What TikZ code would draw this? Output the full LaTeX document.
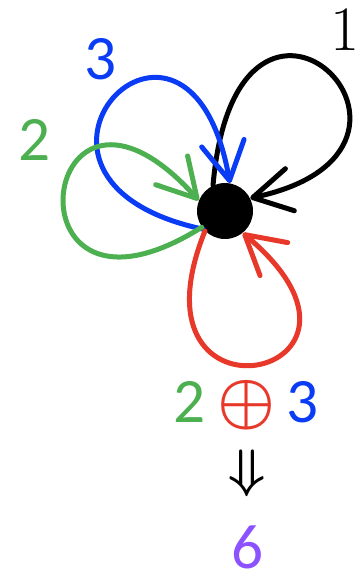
\documentclass[tikz,border=0pt]{standalone}
\usepackage{amsmath,amssymb}
\usepackage{graphicx}
\usepackage{fontspec}
\usepackage{xcolor}
\usepackage{tikz}
\usetikzlibrary{arrows.meta, positioning}
\newfontfamily\numfont{Carlito}
\definecolor{loopgreen}{RGB}{76,175,80}
\definecolor{loopblue}{RGB}{10,60,245}
\definecolor{loopred}{RGB}{232,56,42}
\definecolor{sixpurple}{RGB}{140,82,255}

\begin{document}
\begin{tikzpicture}[x=0.02cm, y=0.02cm,
    hubnode/.style={circle, fill=black, minimum size=1.12cm, inner sep=0pt},
    numnode/.style={inner sep=0pt, font=\numfont\fontsize{36}{40}\selectfont},
    looparr/.style={line width=0.1cm, line cap=round, -{Straight Barb[length=0.76cm, width=0.86cm, round]}}
]
    \useasboundingbox (0,0) rectangle (355,-575);

    % Vertex
    \node (hub) [hubnode] at (225,-211) {};

    % Loop labels
    \node (lab1) [inner sep=0pt, font=\fontsize{36}{40}\selectfont] at (345,-30) {1};
    \node (lab3) [numnode, text=loopblue] at (101,-59) {3};
    \node (lab2) [numnode, text=loopgreen] at (35,-140) {2};

    % Bottom: sum and result
    \node (sumplus) [inner sep=0pt, text=loopred] at (247,-405) {\scalebox{3.7}{$\boldsymbol{\oplus}$}};
    \node (sum2) [numnode, text=loopgreen] at (190,-402) {2};
    \node (sum3) [numnode, text=loopblue] at (303,-402) {3};
    \node (implies) [inner sep=0pt] at (247,-473) {\scalebox{3.0}{$\boldsymbol{\Downarrow}$}};
    \node (result) [numnode, text=sixpurple] at (248,-547) {6};

    % Loops
    \draw [looparr, black] (hub.115) .. controls +(85:275) and +(12:235) .. (hub.27);
    \draw [looparr, loopblue] (hub.220) .. controls +(168:240) and +(100:240) .. (hub.80);
    \draw [looparr, loopgreen] (hub.215) .. controls +(212:240) and +(132:240) .. (hub.158);
    \draw [looparr, loopred] (hub.225) .. controls +(248:225) and +(-40:225) .. (hub.309);
\end{tikzpicture}
\end{document}
